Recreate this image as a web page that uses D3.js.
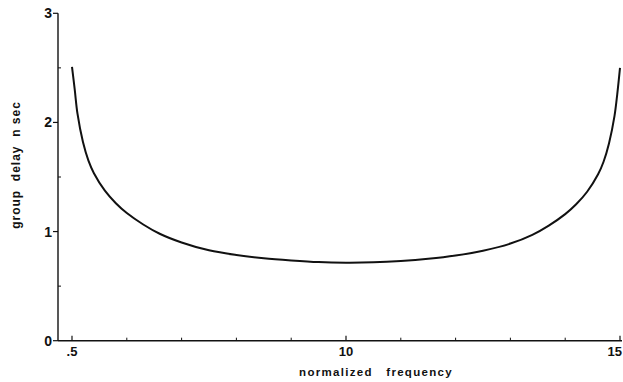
<!DOCTYPE html>
<html>
<head>
<meta charset="utf-8">
<script src="https://cdn.jsdelivr.net/npm/d3@7"></script>
<style>
  body { margin: 0; background: #fff; }
  svg { display: block; }
  text { font-family: "Liberation Sans", Arial, sans-serif; font-weight: bold; fill: #111; }
</style>
</head>
<body>
<svg id="chart" width="623" height="382"></svg>
<script>
// ---- data ----
const freq = [0.500, 0.505, 0.510, 0.520, 0.530, 0.540, 0.560, 0.580, 0.600, 0.630, 0.660, 0.700, 0.750, 0.800, 0.850, 0.900, 0.950, 1.000,
              1.050, 1.100, 1.150, 1.200, 1.250, 1.300, 1.340, 1.370, 1.400, 1.420, 1.440, 1.460, 1.470, 1.480, 1.490, 1.495, 1.500];
const delay = [2.51, 2.30, 2.08, 1.82, 1.65, 1.535, 1.375, 1.26, 1.17, 1.065, 0.98, 0.90, 0.828, 0.785, 0.755, 0.735, 0.72, 0.715,
               0.718, 0.73, 0.75, 0.78, 0.825, 0.89, 0.97, 1.055, 1.16, 1.25, 1.365, 1.525, 1.64, 1.81, 2.06, 2.26, 2.50];
const xMajorTicks = [0.5, 1.0, 1.5];
const xMajorLabels = [".5", "10", "15"];
const xMinorTicks = [0.6, 0.7, 0.8, 0.9, 1.1, 1.2, 1.3, 1.4];
const yMajorTicks = [0, 1, 2, 3];
const yMinorTicks = [0.5, 1.5, 2.5];
const xTitle = "normalized   frequency";
const yTitle = "group  delay  n sec";

// ---- layout ----
const svg = d3.select("#chart");
const x = d3.scaleLinear().domain([0.5, 1.5]).range([72, 620]);
const y = d3.scaleLinear().domain([0, 3]).range([340.7, 13.3]);
const axisX0 = 58;  // y-axis position
const ink = "#111";

// y axis line
svg.append("line").attr("x1", axisX0).attr("x2", axisX0)
  .attr("y1", y(3)).attr("y2", y(0))
  .attr("stroke", ink).attr("stroke-width", 1.4);
// x axis line
svg.append("line").attr("x1", axisX0).attr("x2", 622)
  .attr("y1", y(0)).attr("y2", y(0))
  .attr("stroke", ink).attr("stroke-width", 1.6);

// y major ticks (outward) and labels
const gy = svg.append("g");
yMajorTicks.forEach(v => {
  gy.append("line").attr("x1", axisX0 - 5).attr("x2", axisX0)
    .attr("y1", y(v)).attr("y2", y(v)).attr("stroke", ink).attr("stroke-width", 1.2);
  gy.append("text").attr("x", axisX0 - 6).attr("y", y(v) + 5)
    .attr("text-anchor", "end").attr("font-size", 14).text(d3.format("d")(v));
});
// y minor ticks (inward)
yMinorTicks.forEach(v => {
  gy.append("line").attr("x1", axisX0).attr("x2", axisX0 + 3)
    .attr("y1", y(v)).attr("y2", y(v)).attr("stroke", ink).attr("stroke-width", 1);
});

// x ticks (inward, upward) and labels
const gx = svg.append("g");
xMajorTicks.forEach((v, i) => {
  gx.append("line").attr("x1", x(v)).attr("x2", x(v))
    .attr("y1", y(0)).attr("y2", y(0) - 5).attr("stroke", ink).attr("stroke-width", 1.2);
  const last = i === xMajorTicks.length - 1;
  gx.append("text").attr("x", last ? 622 : x(v)).attr("y", y(0) + 15)
    .attr("text-anchor", last ? "end" : "middle").attr("font-size", 13).text(xMajorLabels[i]);
});
xMinorTicks.forEach(v => {
  gx.append("line").attr("x1", x(v)).attr("x2", x(v))
    .attr("y1", y(0)).attr("y2", y(0) - 3).attr("stroke", ink).attr("stroke-width", 1);
});

// axis titles
svg.append("text").attr("x", 376).attr("y", 376)
  .attr("text-anchor", "middle").attr("font-size", 11.5)
  .attr("letter-spacing", 1.3)
  .style("white-space", "pre").text(xTitle);
svg.append("text")
  .attr("transform", "translate(20,165) rotate(-90)")
  .attr("text-anchor", "middle").attr("font-size", 12)
  .attr("letter-spacing", 1)
  .style("white-space", "pre").text(yTitle);

// curve
const line = d3.line().x((d, i) => x(freq[i])).y(d => y(d)).curve(d3.curveCatmullRom.alpha(0.5));
svg.append("path").datum(delay)
  .attr("d", line).attr("fill", "none")
  .attr("stroke", ink).attr("stroke-width", 2);
</script>
</body>
</html>
